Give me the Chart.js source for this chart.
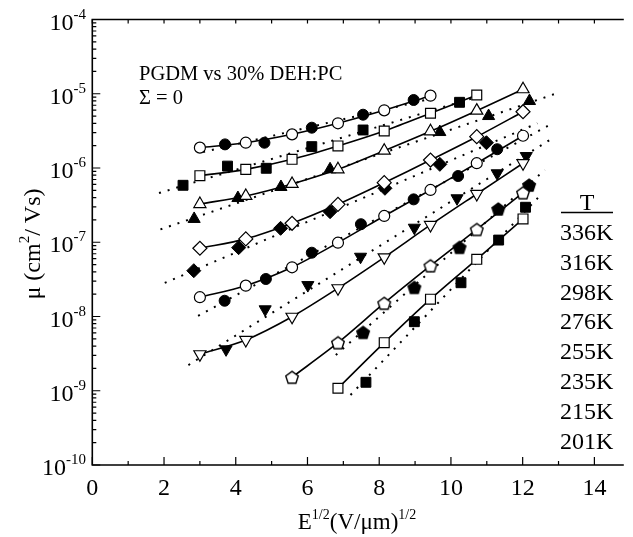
<!DOCTYPE html>
<html lang="en">
<head>
<meta charset="UTF-8">
<title>Mobility vs field - PGDM vs 30% DEH:PC</title>
<script src="https://cdn.jsdelivr.net/npm/chart.js"></script>
<style>
    html, body { margin: 0; padding: 0; background: #fff; }
    #wrap { width: 633px; height: 537px; }
</style>
</head>
<body>
<div id="wrap"><canvas id="muChart" width="633" height="537"></canvas></div>
<script>
// field values (E^1/2) where the open symbols sit
const fieldOpen = [3.00, 4.28, 5.57, 6.85, 8.14, 9.43, 10.72, 12.01];
const temps = ['336K', '316K', '298K', '276K', '255K', '235K', '215K', '201K'];

// open symbols (solid curves), mobility in cm2/Vs
const open336 = [1.88e-6, 2.19e-6, 2.84e-6, 4.00e-6, 5.98e-6, 9.42e-6];
const open316 = [7.87e-7, 9.59e-7, 1.31e-6, 1.98e-6, 3.15e-6, 5.46e-6, 9.62e-6];
const open298 = [3.27e-7, 4.20e-7, 6.10e-7, 9.61e-7, 1.71e-6, 3.12e-6, 5.92e-6, 1.15e-5];
const open276 = [8.30e-8, 1.11e-7, 1.80e-7, 3.24e-7, 6.34e-7, 1.28e-6, 2.64e-6, 5.73e-6];
const open255 = [1.82e-8, 2.60e-8, 4.60e-8, 9.86e-8, 2.26e-7, 5.06e-7, 1.16e-6, 2.72e-6];
const open235 = [3.10e-9, 4.83e-9, 9.93e-9, 2.40e-8, 6.27e-8, 1.71e-7, 4.47e-7, 1.16e-6];
const open215 = [1.52e-9, 4.44e-9, 1.51e-8, 4.83e-8, 1.49e-7, 4.65e-7];
const open201 = [1.08e-9, 4.44e-9, 1.71e-8, 5.89e-8, 2.06e-7];

// filled symbols
const fieldFill336 = [3.70, 4.80, 6.12, 7.55, 8.96];
const fill336 = [2.08e-6, 2.19e-6, 3.49e-6, 5.22e-6, 8.24e-6];
const fieldFill316 = [2.53, 3.77, 4.85, 6.12, 7.55, 10.24];
const fill316 = [5.85e-7, 1.06e-6, 9.91e-7, 1.94e-6, 3.25e-6, 7.67e-6];
const fieldFill298 = [2.84, 4.06, 5.26, 6.63, 9.69, 11.05, 12.19];
const fill298 = [2.06e-7, 3.94e-7, 5.55e-7, 9.61e-7, 3.05e-6, 5.01e-6, 7.98e-6];
const fieldFill276 = [2.83, 4.08, 5.25, 6.63, 8.16, 9.69, 10.99];
const fill276 = [4.14e-8, 8.45e-8, 1.54e-7, 2.58e-7, 5.33e-7, 1.12e-6, 2.19e-6];
const fieldFill255 = [3.69, 4.84, 6.12, 7.49, 8.96, 10.20, 11.29];
const fill255 = [1.63e-8, 3.20e-8, 7.23e-8, 1.75e-7, 3.78e-7, 7.80e-7, 1.79e-6];
const fieldFill235 = [3.73, 4.82, 6.01, 7.48, 8.98, 10.17, 11.29, 12.10];
const fill235 = [3.61e-9, 1.25e-8, 2.65e-8, 6.38e-8, 1.57e-7, 3.91e-7, 8.49e-7, 1.45e-6];
const fieldFill215 = [7.55, 8.98, 10.24, 11.32, 12.18];
const fill215 = [6.12e-9, 2.47e-8, 8.55e-8, 2.81e-7, 5.90e-7];
const fieldFill201 = [7.63, 8.98, 10.28, 11.33, 12.08];
const fill201 = [1.30e-9, 8.51e-9, 2.85e-8, 1.07e-7, 2.96e-7];

// dotted straight fits: [start, end]
const fitField336 = [3.09, 9.53],  fit336 = [1.64e-6, 8.77e-6];
const fitField316 = [1.86, 10.57], fit316 = [4.60e-7, 8.61e-6];
const fitField298 = [1.90, 12.99], fit298 = [1.49e-7, 1.03e-5];
const fitField276 = [2.02, 12.41], fit276 = [2.83e-8, 4.00e-6];
const fitField255 = [2.95, 12.70], fit255 = [1.02e-8, 3.68e-6];
const fitField235 = [2.68, 12.79], fit235 = [2.22e-9, 2.44e-6];
const fitField215 = [6.79, 12.62], fit215 = [3.03e-9, 9.40e-7];
const fitField201 = [7.20, 12.50], fit201 = [8.77e-10, 4.32e-7];

const FONT = '"Liberation Serif", "Times New Roman", serif';

function pts(xs, ys) {
    return ys.map((v, i) => ({ x: xs[i], y: v }));
}

// pentagon marker (not built into Chart.js)
function pentagon(filled) {
    const c = document.createElement('canvas');
    c.width = 16; c.height = 16;
    const g = c.getContext('2d');
    g.beginPath();
    for (let k = 0; k < 5; k++) {
        const ang = -Math.PI / 2 + k * 2 * Math.PI / 5;
        const px = 8 + 6.6 * Math.cos(ang), py = 8.7 + 6.6 * Math.sin(ang);
        k ? g.lineTo(px, py) : g.moveTo(px, py);
    }
    g.closePath();
    g.fillStyle = filled ? '#000' : '#fff';
    g.fill();
    g.lineWidth = 1.4;
    g.strokeStyle = '#000';
    g.stroke();
    return c;
}

const markers = {
    '336K': { style: 'circle', r: 5.5, rot: 0 },
    '316K': { style: 'rect', r: 7, rot: 0 },
    '298K': { style: 'triangle', r: 7, rot: 0 },
    '276K': { style: 'rectRot', r: 7, rot: 0 },
    '255K': { style: 'circle', r: 5.5, rot: 0 },
    '235K': { style: 'triangle', r: 7, rot: 180 },
    '215K': { style: 'penta', r: 8, rot: 0 },
    '201K': { style: 'rect', r: 7, rot: 0 }
};
const pentaOpen = pentagon(false), pentaFill = pentagon(true);

const openSets = {
    '336K': pts(fieldOpen.slice(0, 6), open336),
    '316K': pts(fieldOpen.slice(0, 7), open316),
    '298K': pts(fieldOpen, open298),
    '276K': pts(fieldOpen, open276),
    '255K': pts(fieldOpen, open255),
    '235K': pts(fieldOpen, open235),
    '215K': pts(fieldOpen.slice(2), open215),
    '201K': pts(fieldOpen.slice(3), open201)
};
const fillSets = {
    '336K': pts(fieldFill336, fill336), '316K': pts(fieldFill316, fill316),
    '298K': pts(fieldFill298, fill298), '276K': pts(fieldFill276, fill276),
    '255K': pts(fieldFill255, fill255), '235K': pts(fieldFill235, fill235),
    '215K': pts(fieldFill215, fill215), '201K': pts(fieldFill201, fill201)
};
const fitSets = {
    '336K': pts(fitField336, fit336), '316K': pts(fitField316, fit316),
    '298K': pts(fitField298, fit298), '276K': pts(fitField276, fit276),
    '255K': pts(fitField255, fit255), '235K': pts(fitField235, fit235),
    '215K': pts(fitField215, fit215), '201K': pts(fitField201, fit201)
};

const datasets = [];
temps.forEach(t => {
    const m = markers[t];
    datasets.push({
        label: t + ' fit', data: fitSets[t], showLine: true, order: 3,
        borderColor: '#000', borderWidth: 2, borderDash: [2, 7], pointRadius: 0
    });
    datasets.push({
        label: t + ' filled', data: fillSets[t], showLine: false, order: 2,
        pointStyle: m.style === 'penta' ? pentaFill : m.style, pointRadius: m.r, pointRotation: m.rot,
        pointBackgroundColor: '#000', pointBorderColor: '#000', pointBorderWidth: 1
    });
    datasets.push({
        label: t, data: openSets[t], showLine: true, order: 1, tension: 0.3,
        borderColor: '#000', borderWidth: 1.6,
        pointStyle: m.style === 'penta' ? pentaOpen : m.style, pointRadius: m.r, pointRotation: m.rot,
        pointBackgroundColor: '#fff', pointBorderColor: '#000', pointBorderWidth: 1.2
    });
});

// text with superscript pieces: parts = [[text, isSup], ...]
function partsWidth(ctx, parts, size, supSize) {
    let w = 0;
    parts.forEach(p => { ctx.font = (p[1] ? supSize : size) + 'px ' + FONT; w += ctx.measureText(p[0]).width; });
    return w;
}
function drawParts(ctx, parts, x, y, size, supSize, rise) {
    parts.forEach(p => {
        ctx.font = (p[1] ? supSize : size) + 'px ' + FONT;
        ctx.fillText(p[0], x, p[1] ? y - rise : y);
        x += ctx.measureText(p[0]).width;
    });
}

const framePlugin = {
    id: 'frame',
    afterDraw(chart) {
        const { ctx, chartArea: a, scales: { x, y } } = chart;
        ctx.save();
        ctx.strokeStyle = '#000';
        ctx.fillStyle = '#000';
        ctx.lineWidth = 1.6;
        ctx.beginPath();
        ctx.moveTo(a.right, a.top); ctx.lineTo(a.left, a.top);
        ctx.lineTo(a.left, a.bottom); ctx.lineTo(a.right, a.bottom);
        ctx.stroke();

        // ticks, pointing inward
        ctx.lineWidth = 1.2;
        ctx.beginPath();
        for (let v = 0; v <= 14; v++) {
            const px = x.getPixelForValue(v);
            ctx.moveTo(px, a.bottom); ctx.lineTo(px, a.bottom - (v % 2 ? 4 : 8));
            ctx.moveTo(px, a.top); ctx.lineTo(px, a.top + 4);
        }
        for (let e = -10; e <= -4; e++) {
            const py = y.getPixelForValue(Math.pow(10, e));
            ctx.moveTo(a.left, py); ctx.lineTo(a.left + 8, py);
            if (e < -4) {
                for (let k = 2; k <= 9; k++) {
                    const pm = y.getPixelForValue(k * Math.pow(10, e));
                    ctx.moveTo(a.left, pm); ctx.lineTo(a.left + 4, pm);
                }
            }
        }
        ctx.stroke();

        // x tick labels
        ctx.font = '24px ' + FONT;
        ctx.textAlign = 'center';
        ctx.textBaseline = 'alphabetic';
        for (let v = 0; v <= 14; v += 2) {
            ctx.fillText(String(v), x.getPixelForValue(v), 495);
        }

        // y tick labels 10^n
        ctx.textAlign = 'left';
        for (let e = -10; e <= -4; e++) {
            const py = y.getPixelForValue(Math.pow(10, e));
            const parts = [['10', false], [String(e), true]];
            const w = partsWidth(ctx, parts, 24, 15);
            drawParts(ctx, parts, 86 - w, py + 10, 24, 15, 11);
        }

        // x axis title
        const xt = [['E', false], ['1/2', true], ['(V/\u03bcm)', false], ['1/2', true]];
        const xw = partsWidth(ctx, xt, 23, 14);
        drawParts(ctx, xt, 357 - xw / 2, 529, 23, 14, 10);

        // y axis title (rotated)
        const yt = [['\u03bc (cm', false], ['2', true], ['/ Vs)', false]];
        const yw = partsWidth(ctx, yt, 24, 15);
        ctx.save();
        ctx.translate(40, 244);
        ctx.rotate(-Math.PI / 2);
        drawParts(ctx, yt, -yw / 2, 0, 24, 15, 11);
        ctx.restore();

        // annotations
        ctx.font = '20.5px ' + FONT;
        ctx.fillText('PGDM vs 30% DEH:PC', 139, 80);
        ctx.fillText('\u03a3 = 0', 139, 104);

        // temperature list
        ctx.font = '24px ' + FONT;
        ctx.textAlign = 'center';
        ctx.fillText('T', 587, 210);
        ctx.lineWidth = 1.5;
        ctx.beginPath();
        ctx.moveTo(561, 212.5); ctx.lineTo(613, 212.5);
        ctx.stroke();
        ctx.textAlign = 'left';
        temps.forEach((t, i) => ctx.fillText(t, 560, 240 + i * 29.8));
        ctx.restore();
    }
};

new Chart(document.getElementById('muChart'), {
    type: 'scatter',
    data: { datasets },
    options: {
        responsive: false,
        animation: false,
        devicePixelRatio: 1,
        layout: { padding: { left: 92.3, top: 19.5, right: 0, bottom: 72 } },
        plugins: { legend: { display: false }, tooltip: { enabled: false } },
        scales: {
            x: { type: 'linear', min: 0, max: 14.82, display: false },
            y: { type: 'logarithmic', min: 1e-10, max: 1e-4, display: false }
        }
    },
    plugins: [framePlugin]
});
</script>
</body>
</html>
